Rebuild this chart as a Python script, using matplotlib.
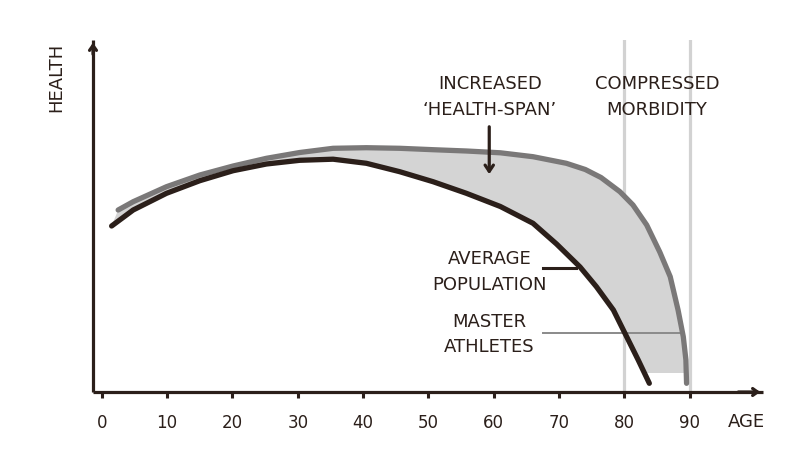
import matplotlib.pyplot as plt
import numpy as np

# Farger
DARK = '#2b1f1a'
GREY = '#7a7878'
FILL = '#d4d4d4'
VLINE = '#d2d2d2'

# Data (alder, helse i vilkårlege einingar)
avg_age = [1.5, 4.8, 9.9, 15.0, 20.1, 25.2, 30.3, 35.4, 40.5, 45.6, 50.7, 55.8, 61.0,
           66.0, 69.6, 73.2, 75.7, 78.3, 80.2, 82.1, 83.8]
avg_health = [166, 182, 198.7, 211.3, 221.3, 228, 231.7, 232.8, 228.7, 220.3, 210.3, 198.7, 185.5,
              168.7, 148, 125, 105.3, 82, 57, 32, 8.7]

master_age = [2.5, 4.8, 9.9, 15.0, 20.1, 25.2, 30.3, 35.4, 40.5, 45.6, 50.7, 55.8, 61.0,
              66.0, 71.1, 74.0, 76.4, 79.3, 81.3, 83.4, 85.4, 87.0, 88.2, 89.0, 89.4, 89.5]
master_health = [182, 190.3, 205.3, 217, 226, 233.7, 239.5, 243.7, 244.3, 243.7, 242.3, 241, 239.2,
                 235.3, 228.7, 222.5, 214.5, 200.3, 187, 167, 140, 115.3, 82, 55.3, 32, 8.7]

fill_floor = 19
ticks = list(range(0, 100, 10))
compressed_ages = [80, 90]

fig = plt.figure(figsize=(8, 4.55), dpi=100)
ax = fig.add_axes([93 / 800, 1 - 392 / 455, (763 - 93) / 800, (392 - 40) / 455])
ax.set_xlim(-1.35, 101.2)
ax.set_ylim(0, 352)

# Grå vertikale linjer
for a in compressed_ages:
    ax.axvline(a, ymin=0, ymax=1, color=VLINE, lw=2.3, zorder=1)

# Fyll mellom kurvene (kutta ved golvet)
m_age = np.array(master_age); m_h = np.array(master_health)
a_age = np.array(avg_age); a_h = np.array(avg_health)
m_end = np.interp(fill_floor, m_h[::-1], m_age[::-1])
a_end = np.interp(fill_floor, a_h[::-1], a_age[::-1])
keep_m = m_h >= fill_floor
keep_a = a_h >= fill_floor
poly_x = np.concatenate([m_age[keep_m], [m_end, a_end], a_age[keep_a][::-1]])
poly_y = np.concatenate([m_h[keep_m], [fill_floor, fill_floor], a_h[keep_a][::-1]])
ax.fill(poly_x, poly_y, color=FILL, lw=0, zorder=2)

# Etikett-linjer
ax.plot([67.5, 88.8], [59, 59], color='#8a8a8a', lw=1.4, zorder=3)
ax.plot([67.5, 72.6], [124, 124], color=DARK, lw=2.2, zorder=3)

# Kurver
ax.plot(master_age, master_health, color=GREY, lw=3.8, solid_capstyle='round',
        solid_joinstyle='round', zorder=4)
ax.plot(avg_age, avg_health, color=DARK, lw=3.8, solid_capstyle='round',
        solid_joinstyle='round', zorder=5)

# Pil for health-span
ax.annotate('', xy=(59.3, 215), xytext=(59.3, 268),
            arrowprops=dict(arrowstyle='->,head_length=0.45,head_width=0.3', lw=2.3, color=DARK),
            zorder=6)

# Aksar
for s in ['top', 'right']:
    ax.spines[s].set_visible(False)
for s in ['left', 'bottom']:
    ax.spines[s].set_color(DARK)
    ax.spines[s].set_linewidth(2.3)
    ax.spines[s].set_capstyle('butt')
ax.set_yticks([])
ax.set_xticks(ticks)
ax.set_xticklabels([str(t) for t in ticks])
ax.tick_params(axis='x', direction='out', length=4, width=2.2, color=DARK,
               labelsize=12, labelcolor=DARK, pad=12)

ax.annotate('', xy=(-1.35, 352), xytext=(-1.35, 335),
            arrowprops=dict(arrowstyle='->,head_length=0.35,head_width=0.25', lw=2.3, color=DARK),
            annotation_clip=False)
ax.annotate('', xy=(101.2, 0), xytext=(97, 0),
            arrowprops=dict(arrowstyle='->,head_length=0.35,head_width=0.25', lw=2.3, color=DARK),
            annotation_clip=False)

# Tekst
kw = dict(color=DARK, fontsize=13, ha='center', va='center', clip_on=False)
ax.text(59.4, 308, 'INCREASED', **kw)
ax.text(59.4, 282, '\u2018HEALTH-SPAN\u2019', **kw)
ax.text(85.0, 308, 'COMPRESSED', **kw)
ax.text(85.0, 282, 'MORBIDITY', **kw)
ax.text(59.3, 133, 'AVERAGE', **kw)
ax.text(59.3, 107, 'POPULATION', **kw)
ax.text(59.3, 70, 'MASTER', **kw)
ax.text(59.3, 45, 'ATHLETES', **kw)
ax.text(98.6, -30, 'AGE', **kw)
ax.text(-6.9, 315, 'HEALTH', rotation=90, **kw)

fig.savefig('out.png', dpi=100)
